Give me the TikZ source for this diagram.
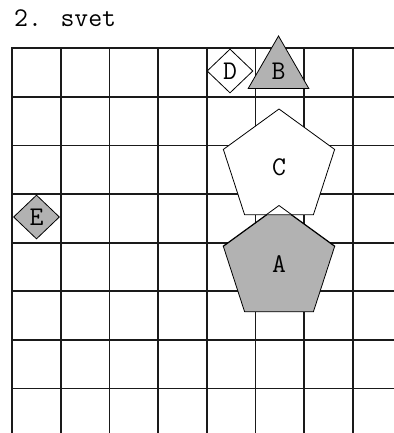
\documentclass[tikz,border=0pt]{standalone}
\usetikzlibrary{shapes.geometric}
\definecolor{cgrid}{HTML}{1A1A1A}
\definecolor{cshade}{HTML}{B2B2B2}
\tikzset{
  every picture/.style={font=\ttfamily\fontsize{27}{27}\selectfont},
  gridline/.style={draw=cgrid, line width=1.8pt, line cap=rect},
  outline/.style={draw=black, line width=0.8pt},
  piece/.style={outline, fill=#1, inner sep=0pt},
  piece/.default=white,
  penta/.style={piece=#1, regular polygon, regular polygon sides=5, minimum size=117pt},
  penta/.default=white,
  tri/.style={piece=#1, regular polygon, regular polygon sides=3, minimum size=70pt},
  tri/.default=white,
  rhomb/.style={piece=#1, diamond, minimum width=46pt, minimum height=44pt},
  rhomb/.default=white,
}
\begin{document}
\begin{tikzpicture}[x=1pt, y=-1pt]
  \useasboundingbox (0,0) rectangle (393,433);
  \node[anchor=base west, inner sep=0pt] (title) at (14,26.5) {2. svet};

  % grid, cut off at the right and bottom edges
  \foreach \i in {0,...,7}
    \draw[gridline] ({12+48.7*\i},48.3) -- ({12+48.7*\i},440);
  \foreach \j in {0,...,7}
    \draw[gridline] (12,{48.3+48.6*\j}) -- (400,{48.3+48.6*\j});

  % pieces
  \node[rhomb] (D) at (230,71) {D};
  \node[tri=cshade] (B) at (278.5,71) {B};
  \node[penta=cshade] (A) at (279,264.5) {A};
  \node[penta] (C) at (279,167.5) {C};
  \draw[outline] (A.corner 2) -- (A.corner 1) -- (A.corner 5);
  \node[rhomb=cshade] (E) at (36.5,217) {E};
\end{tikzpicture}
\end{document}
